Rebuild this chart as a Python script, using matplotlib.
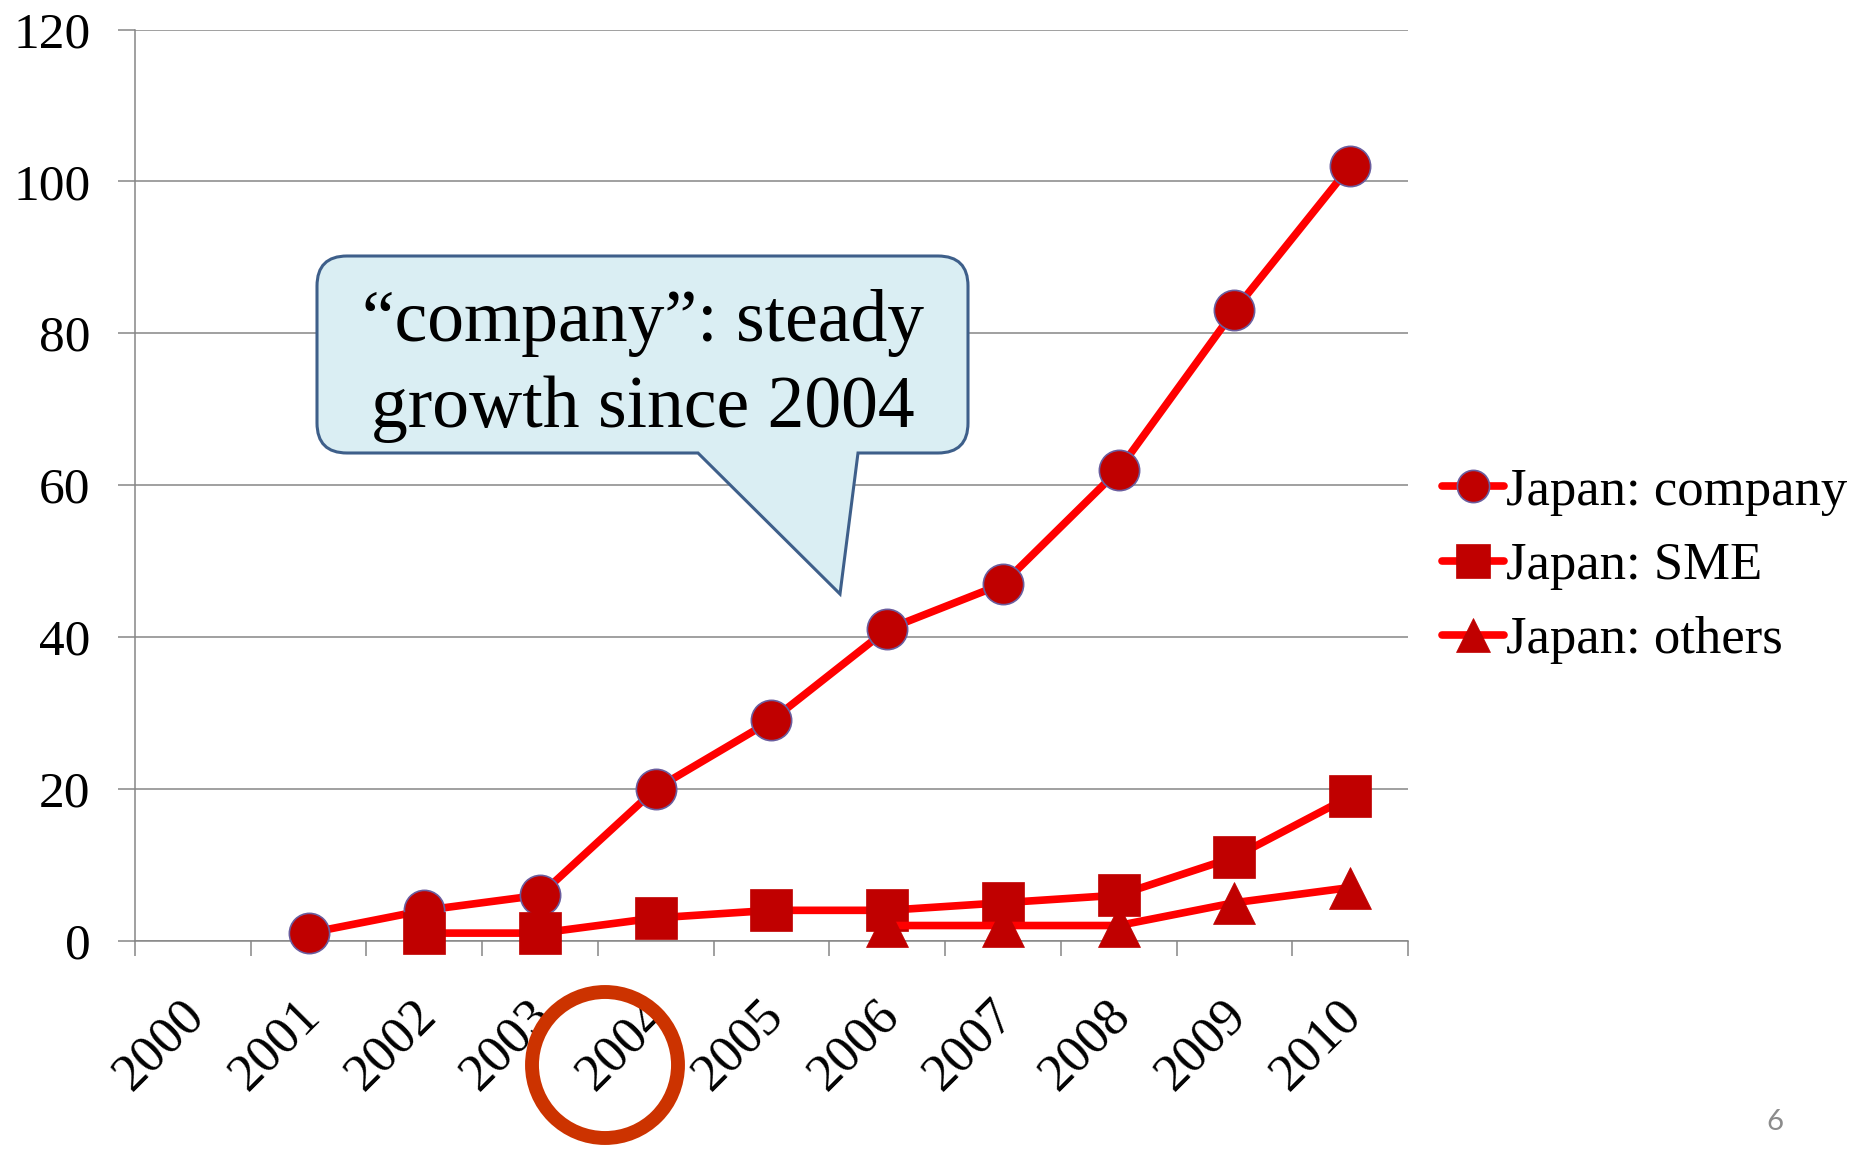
import matplotlib
matplotlib.use("Agg")
import matplotlib.pyplot as plt
import numpy as np
from matplotlib.path import Path
from matplotlib.patches import PathPatch, Circle
from matplotlib.transforms import IdentityTransform, ScaledTranslation

# Yearly counts per applicant type
years = ["2000", "2001", "2002", "2003", "2004", "2005",
         "2006", "2007", "2008", "2009", "2010"]
company = [np.nan, 1, 4, 6, 20, 29, 41, 47, 62, 83, 102]
sme = [np.nan, np.nan, 1, 1, 3, 4, 4, 5, 6, 11, 19]
others = [np.nan, np.nan, np.nan, np.nan, np.nan, np.nan, 2, 2, 2, 5, 7]
yticks = [0, 20, 40, 60, 80, 100, 120]
series_labels = ["Japan: company", "Japan: SME", "Japan: others"]
callout_text = "\u201ccompany\u201d: steady\ngrowth since 2004"

plt.rcParams["font.family"] = ["Liberation Serif", "DejaVu Serif"]

W, H = 1856, 1149
fig = plt.figure(figsize=(W / 100, H / 100), dpi=100)
fig.patch.set_facecolor("white")

left, right, top, bottom = 135, 1408, 29.5, 940.7
ax = fig.add_axes([left / W, 1 - bottom / H, (right - left) / W, (bottom - top) / H])

grid_c = "#868686"
line_c = "#FF0000"
mark_c = "#C00000"
x = np.arange(len(years))

common = dict(color=line_c, lw=5.5, mfc=mark_c, clip_on=False,
              solid_capstyle="round", solid_joinstyle="round")
ax.plot(x, company, marker="o", ms=29, mec="#6A5D9E", mew=1.2, zorder=3,
        label=series_labels[0], **common)
ax.plot(x, sme, marker="s", ms=30, mec=mark_c, mew=0.5, zorder=4,
        label=series_labels[1], **common)
ax.plot(x, others, marker="^", ms=30, mec=mark_c, mew=0.5, zorder=5,
        label=series_labels[2], **common)

ax.set_xlim(-0.5, len(years) - 0.5)
ax.set_ylim(0, 120)
ax.set_yticks(yticks)
ax.set_yticklabels([str(v) for v in yticks])
ax.set_xticks(x)
ax.set_xticklabels(years, rotation=45, ha="right", va="top", fontsize=38)
ax.set_xticks(np.arange(-0.5, len(years), 1), minor=True)
ax.tick_params(axis="x", which="major", length=0, pad=36)
ax.tick_params(axis="x", which="minor", length=10.8, width=1.1, color=grid_c)
ax.tick_params(axis="y", which="major", length=12, width=1.1, color=grid_c,
               pad=20, labelsize=37)
ax.yaxis.grid(True, color=grid_c, lw=1.1)
ax.set_axisbelow(True)
for s in ("top", "right"):
    ax.spines[s].set_visible(False)
for s in ("left", "bottom"):
    ax.spines[s].set_color(grid_c)
    ax.spines[s].set_linewidth(1.1)

shift = ScaledTranslation(21 / 100, 0, fig.dpi_scale_trans)
for lbl in ax.get_xticklabels():
    lbl.set_transform(lbl.get_transform() + shift)

fig.legend(loc="center left", bbox_to_anchor=(1442 / W, 1 - 566 / H),
           frameon=False, fontsize=38, handlelength=1.17, handletextpad=0.05,
           borderpad=0, borderaxespad=0, labelspacing=0.5, markerscale=0.8)

# Speech-bubble callout (display pixel coordinates, origin bottom-left)
L, R, T, B, r = 317, 968, H - 256, H - 453, 30
xl, xr, tip = 698, 858, (840, H - 594)
verts = [(L + r, T), (R - r, T), (R, T), (R, T - r), (R, B + r), (R, B), (R - r, B),
         (xr, B), tip, (xl, B), (L + r, B), (L, B), (L, B + r), (L, T - r), (L, T),
         (L + r, T), (L + r, T)]
codes = [Path.MOVETO, Path.LINETO, Path.CURVE3, Path.CURVE3, Path.LINETO,
         Path.CURVE3, Path.CURVE3, Path.LINETO, Path.LINETO, Path.LINETO,
         Path.LINETO, Path.CURVE3, Path.CURVE3, Path.LINETO, Path.CURVE3,
         Path.CURVE3, Path.CLOSEPOLY]
bubble = PathPatch(Path(verts, codes), facecolor="#DAEEF3", edgecolor="#3E5F8A",
                   lw=2.2, transform=IdentityTransform(), zorder=6)
fig.add_artist(bubble)
fig.text(643 / W, 1 - 366 / H, callout_text, ha="center", va="center",
         fontsize=53, linespacing=1.36, multialignment="center", zorder=7)

# Highlight ring around the 2004 label
ring = Circle((605, H - 1065), 73, fill=False, edgecolor="#CC3300", lw=10,
              transform=IdentityTransform(), zorder=8)
fig.add_artist(ring)

fig.text(1775 / W, 1 - 1122 / H, "6", ha="center", va="center", fontsize=21,
         color="#8C8C8C", family=["Lato", "DejaVu Sans"])

fig.savefig("out.png", dpi=100)
